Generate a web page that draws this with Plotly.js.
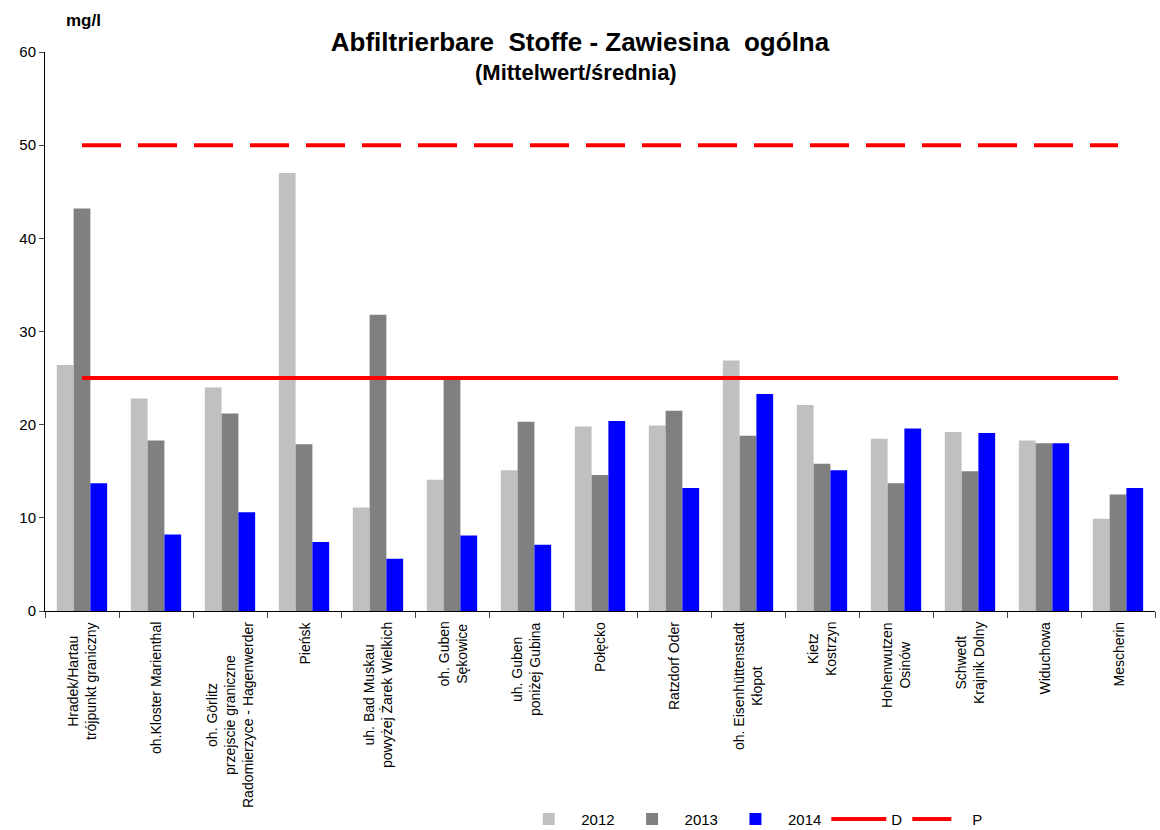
<!DOCTYPE html>
<html>
<head>
<meta charset="utf-8">
<script src="https://cdn.plot.ly/plotly-3.0.1.min.js"></script>
<style>html,body{margin:0;padding:0;background:#fff;}#chart{width:1160px;height:830px;}</style>
</head>
<body>
<div id="chart"></div>
<script>
const categories = [
  "Hradek/Hartau<br>trójpunkt graniczny",
  "oh.Kloster Marienthal",
  "oh. Görlitz<br>przejscie graniczne<br>Radomierzyce - Hagenwerder",
  "Pieńsk",
  "uh. Bad Muskau<br>powyżej Żarek Wielkich",
  "oh. Guben<br>Sękowice",
  "uh. Guben<br>poniżej Gubina",
  "Połęcko",
  "Ratzdorf Oder",
  "oh. Eisenhüttenstadt<br>Kłopot",
  "Kietz<br>Kostrzyn",
  "Hohenwutzen<br>Osinów",
  "Schwedt<br>Krajnik Dolny",
  "Widuchowa",
  "Mescherin"
];
const catIds = categories.map((c, i) => "c" + i);
const v2012 = [26.4, 22.8, 24.0, 47.0, 11.1, 14.1, 15.1, 19.8, 19.9, 26.9, 22.1, 18.5, 19.2, 18.3, 9.9];
const v2013 = [43.2, 18.3, 21.2, 17.9, 31.8, 25.0, 20.3, 14.6, 21.5, 18.8, 15.8, 13.7, 15.0, 18.0, 12.5];
const v2014 = [13.7, 8.2, 10.6, 7.4, 5.6, 8.1, 7.1, 20.4, 13.2, 23.3, 15.1, 19.6, 19.1, 18.0, 13.2];
const limitD = categories.map(() => 25);
const limitP = categories.map(() => 50);
const yTicks = [0, 10, 20, 30, 40, 50, 60];

const font = "Liberation Sans, Arial, sans-serif";

const traces = [
  {type: "bar", name: "2012", x: catIds, y: v2012, marker: {color: "#C0C0C0"}},
  {type: "bar", name: "2013", x: catIds, y: v2013, marker: {color: "#808080"}},
  {type: "bar", name: "2014", x: catIds, y: v2014, marker: {color: "#0000FF"}},
  {type: "scatter", mode: "lines", name: "D", x: catIds, y: limitD,
   line: {color: "#FF0000", width: 4}},
  {type: "scatter", mode: "lines", name: "P", x: catIds, y: limitP,
   line: {color: "#FF0000", width: 4, dash: "39px,17px"}}
];

const annotations = categories.map((c, i) => ({
  x: catIds[i], xref: "x", y: 0, yref: "y",
  text: c, textangle: -90, showarrow: false,
  xanchor: "center", yanchor: "top", yshift: -9, align: "center",
  font: {family: font, size: 14, color: "#000"}
}));
annotations.push({
  text: "<b>mg/l</b>", xref: "paper", yref: "paper", x: 0, y: 1.0,
  xanchor: "left", yanchor: "bottom", yshift: 20, xshift: 19, showarrow: false,
  font: {family: font, size: 17, color: "#000"}
});
annotations.push({
  text: "<b>(Mittelwert/średnia)</b>", xref: "paper", yref: "paper",
  x: 0.478, y: (611 - 72) / 559, xanchor: "center", yanchor: "middle", showarrow: false,
  font: {family: font, size: 22, color: "#000"}
});

const layout = {
  width: 1160, height: 830,
  paper_bgcolor: "#fff", plot_bgcolor: "#fff",
  margin: {l: 45, r: 5, t: 52, b: 219},
  font: {family: font, size: 13, color: "#000"},
  title: {text: "<b>Abfiltrierbare  Stoffe - Zawiesina  ogólna</b>",
          x: 0.5, xref: "container", y: 1 - 42 / 830, yanchor: "middle",
          font: {family: font, size: 26, color: "#000"}},
  barmode: "group", bargap: 0.32, bargroupgap: 0,
  showlegend: true,
  legend: {orientation: "h", xref: "container", yref: "container",
           x: 0.445, y: 0.013, xanchor: "left", yanchor: "middle",
           itemwidth: 55, font: {family: font, size: 15, color: "#000"},
           traceorder: "normal"},
  xaxis: {type: "category", showticklabels: false, ticks: "outside", ticklen: 6,
          tickson: "boundaries", showline: true, linecolor: "#000", linewidth: 1,
          showgrid: false, zeroline: false, range: [-0.5, 14.5]},
  yaxis: {range: [0, 60], tickvals: yTicks, ticks: "outside", ticklen: 5,
          showline: true, linecolor: "#000", linewidth: 1, showgrid: false,
          zeroline: false, tickfont: {family: font, size: 15, color: "#000"}},
  annotations: annotations
};

Plotly.newPlot("chart", traces, layout, {displayModeBar: false, staticPlot: true});
</script>
</body>
</html>
